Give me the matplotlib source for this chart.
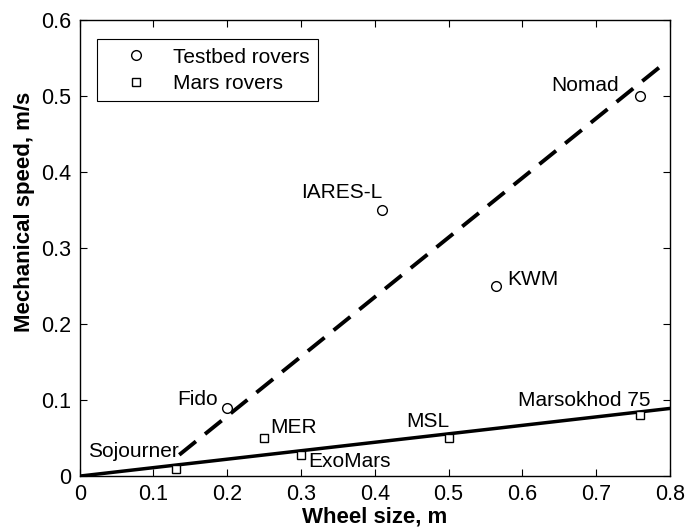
import matplotlib
matplotlib.use("Agg")
import matplotlib.pyplot as plt

plt.rcParams['font.family'] = ['Liberation Sans', 'DejaVu Sans']

# testbed rovers: wheel size (m), mechanical speed (m/s)
testbed_names = ["Fido", "IARES-L", "KWM", "Nomad"]
testbed_wheel = [0.20, 0.41, 0.565, 0.76]
testbed_speed = [0.09, 0.35, 0.25, 0.50]

# flight / planned Mars rovers
mars_names = ["Sojourner", "MER", "ExoMars", "MSL", "Marsokhod 75"]
mars_wheel = [0.13, 0.25, 0.30, 0.50, 0.76]
mars_speed = [0.01, 0.05, 0.028, 0.05, 0.08]

# trend lines
testbed_fit_x = [0.135, 0.795]
testbed_fit_y = [0.028, 0.545]
mars_fit_x = [0.0, 0.8]
mars_fit_y = [0.0, 0.089]

# label offsets (pixels) and alignment for each point
testbed_lbl = [(-9, 8, 'right'), (0, 18, 'right'), (11, 7, 'left'), (-21, 11, 'right')]
mars_lbl = [(3, 17, 'right'), (6, 11, 'left'), (7, -7, 'left'), (1, 17, 'right'), (10, 15, 'right')]

fig = plt.figure(figsize=(6.87, 5.29), dpi=100)
ax = fig.add_axes([0.116, 0.100, 0.859, 0.862])

ax.plot(testbed_fit_x, testbed_fit_y, color='black', lw=2.8, linestyle=(0, (5.5, 3.0)))
ax.plot(mars_fit_x, mars_fit_y, color='black', lw=2.5)

ax.plot(testbed_wheel, testbed_speed, 'o', mfc='white', mec='black', ms=7, mew=1.0,
        label='Testbed rovers')
ax.plot(mars_wheel, mars_speed, 's', mfc='white', mec='black', ms=5.5, mew=1.0,
        label='Mars rovers')

for name, x, y, (dx, dy, ha) in zip(testbed_names, testbed_wheel, testbed_speed, testbed_lbl):
    ax.annotate(name, (x, y), xytext=(dx, dy), textcoords='offset pixels',
                ha=ha, va='center', fontsize=15)
for name, x, y, (dx, dy, ha) in zip(mars_names, mars_wheel, mars_speed, mars_lbl):
    ax.annotate(name, (x, y), xytext=(dx, dy), textcoords='offset pixels',
                ha=ha, va='center', fontsize=15)

ax.set_xlim(0, 0.8)
ax.set_ylim(0, 0.6)
ax.set_xticks([0, 0.1, 0.2, 0.3, 0.4, 0.5, 0.6, 0.7, 0.8])
ax.set_xticklabels(['0', '0.1', '0.2', '0.3', '0.4', '0.5', '0.6', '0.7', '0.8'])
ax.set_yticks([0, 0.1, 0.2, 0.3, 0.4, 0.5, 0.6])
ax.set_yticklabels(['0', '0.1', '0.2', '0.3', '0.4', '0.5', '0.6'])
ax.tick_params(direction='in', length=5, width=0.8, top=True, right=True,
               labelsize=15.5, pad=6)
for s in ax.spines.values():
    s.set_linewidth(1.0)

ax.set_xlabel('Wheel size, m', fontsize=16, fontweight='bold', labelpad=1)
ax.set_ylabel('Mechanical speed, m/s', fontsize=16, fontweight='bold')
ax.yaxis.set_label_coords(-0.075, 0.58)

leg = ax.legend(loc='upper left', bbox_to_anchor=(0.03, 0.958), borderaxespad=0,
                fontsize=15, frameon=True, fancybox=False, edgecolor='black',
                framealpha=1, handletextpad=0.35, borderpad=0.4, labelspacing=0.35,
                handlelength=2.9)
leg.get_frame().set_linewidth(0.8)

fig.savefig('out.png', dpi=100)
